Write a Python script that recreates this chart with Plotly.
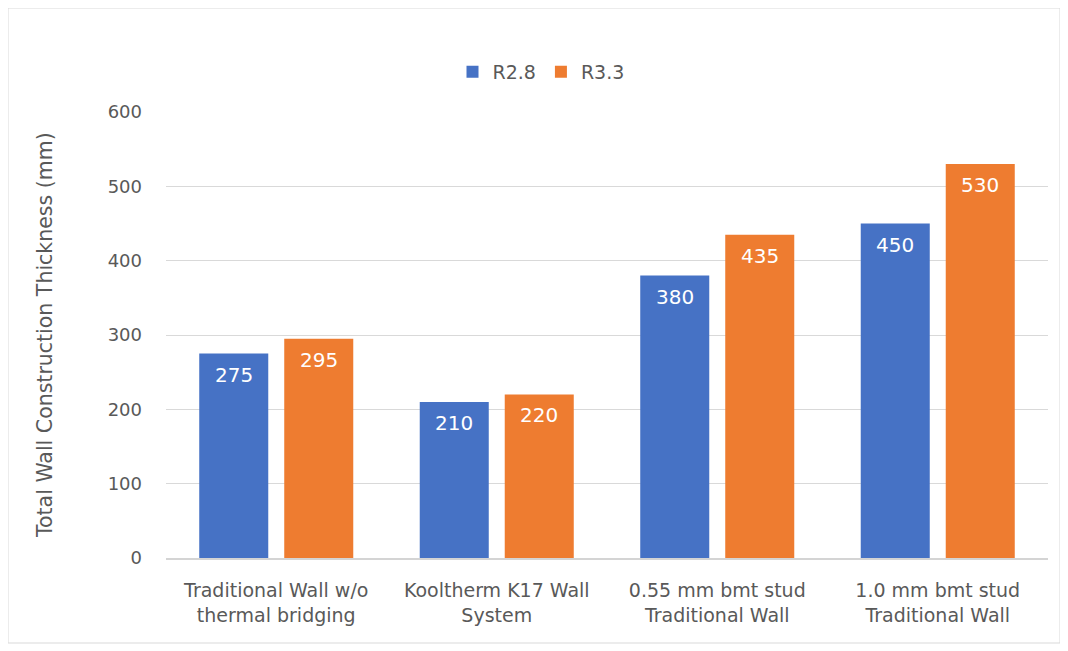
import plotly.graph_objects as go

categories = ["Traditional Wall w/o<br>thermal bridging", "Kooltherm K17 Wall<br>System",
              "0.55 mm bmt stud<br>Traditional Wall", "1.0 mm bmt stud<br>Traditional Wall"]
r28 = [275, 210, 380, 450]
r33 = [295, 220, 435, 530]
series_names = ["R2.8", "R3.3"]
y_ticks = [0, 100, 200, 300, 400, 500, 600]
y_title = "Total Wall Construction Thickness (mm)"

FONT = "DejaVu Sans"
GRAY = "#595959"

# figure sits at (8,8) in the page because of the default body margin
W, H = 1060, 643
L, R, T, B = 158, 20, 104, 93
PW, PH = W - L - R, H - T - B
BARGAP, BARGROUPGAP = 0.229, 0.188
slot = PW / len(categories) * (1 - BARGAP) / 2

fig = go.Figure()
series = [(series_names[0], r28, "#4672c5", -1), (series_names[1], r33, "#ee7c30", 1)]
for name, vals, col, side in series:
    fig.add_trace(go.Bar(
        x=categories, y=vals, name=name,
        marker=dict(color=col, line=dict(width=0)),
    ))
    for c, v in zip(categories, vals):
        fig.add_annotation(x=c, y=v, xref="x", yref="y", text=str(v), showarrow=False,
                           xshift=side * slot / 2, yshift=-21, xanchor="center", yanchor="middle",
                           font=dict(color="white", size=20, family=FONT))

fig.update_layout(
    width=W, height=H,
    margin=dict(l=L, r=R, t=T, b=B, autoexpand=False),
    paper_bgcolor="white", plot_bgcolor="white",
    barmode="group", bargap=BARGAP, bargroupgap=BARGROUPGAP,
    font=dict(family=FONT, color=GRAY, size=17),
    legend=dict(orientation="h", x=(533 - L) / PW, xanchor="center", y=(T + PH - 64) / PH, yanchor="middle",
                font=dict(size=19, color=GRAY), itemwidth=30, traceorder="normal"),
)
fig.update_yaxes(range=[0, 600], tickvals=y_ticks, showgrid=True, gridcolor="#d9d9d9", gridwidth=1,
                 zeroline=False, showline=False, ticks="", ticklabelstandoff=23, automargin=False,
                 tickfont=dict(size=18, color=GRAY))
fig.update_xaxes(showline=True, linecolor="#d4d4d4", linewidth=2, ticks="", automargin=False,
                 ticklabelstandoff=14, tickfont=dict(size=19, color=GRAY))

fig.add_annotation(text=y_title, xref="paper", yref="paper", x=(37 - L) / PW, y=0.5,
                   xanchor="center", yanchor="middle", textangle=-90, showarrow=False,
                   font=dict(size=20.5, color=GRAY, family=FONT))

fig.add_shape(type="rect", xref="paper", yref="paper",
              x0=(0 - L) / PW, x1=(1052 - L) / PW, y0=(T + PH - 635) / PH, y1=(T + PH + 0) / PH,
              line=dict(color="#d9d9d9", width=1), fillcolor="rgba(0,0,0,0)", layer="below")

fig.write_html("out.html")
